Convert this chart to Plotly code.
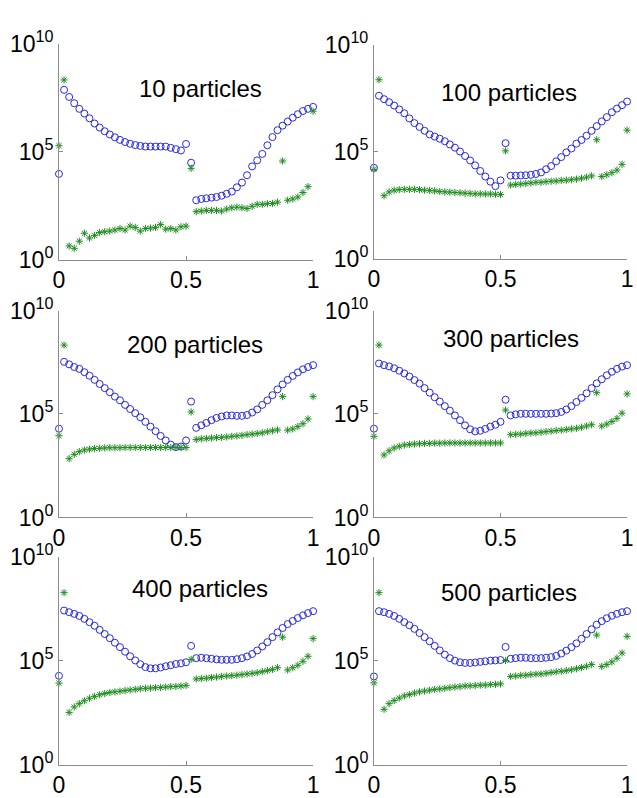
import plotly.graph_objects as go

# x positions (51 evenly spaced samples)
x_vals = [0.00, 0.02, 0.04, 0.06, 0.08, 0.10, 0.12, 0.14, 0.16, 0.18,
          0.20, 0.22, 0.24, 0.26, 0.28, 0.30, 0.32, 0.34, 0.36, 0.38,
          0.40, 0.42, 0.44, 0.46, 0.48, 0.50, 0.52, 0.54, 0.56, 0.58,
          0.60, 0.62, 0.64, 0.66, 0.68, 0.70, 0.72, 0.74, 0.76, 0.78,
          0.80, 0.82, 0.84, 0.86, 0.88, 0.90, 0.92, 0.94, 0.96, 0.98, 1.00]

titles = ["10 particles", "100 particles", "200 particles",
          "300 particles", "400 particles", "500 particles"]

# values, stored as log10(value)
blue_10 = [3.97, 7.87, 7.54, 7.25, 6.99, 6.77, 6.55, 6.31, 6.12, 5.95, 5.80, 5.67, 5.55, 5.45, 5.37, 5.31, 5.27, 5.24, 5.24, 5.24, 5.24, 5.24, 5.18, 5.12, 5.06, 5.36, 4.49, 2.75, 2.81, 2.84, 2.87, 2.90, 2.96, 3.05, 3.15, 3.35, 3.57, 3.91, 4.32, 4.60, 4.90, 5.30, 5.68, 6.00, 6.21, 6.40, 6.58, 6.74, 6.89, 6.99, 7.08]
green_10 = [5.28, 8.33, 0.63, 0.52, 0.85, 1.22, 1.00, 1.12, 1.25, 1.29, 1.32, 1.37, 1.44, 1.37, 1.55, 1.49, 1.32, 1.44, 1.46, 1.49, 1.62, 1.41, 1.44, 1.37, 1.52, 1.55, 4.23, 2.22, 2.25, 2.28, 2.28, 2.28, 2.25, 2.34, 2.40, 2.43, 2.40, 2.37, 2.47, 2.56, 2.56, 2.59, 2.60, 2.66, 4.57, 2.75, 2.81, 2.90, 3.11, 3.38, 6.88]

blue_100 = [4.25, 7.62, 7.46, 7.32, 7.16, 6.98, 6.80, 6.56, 6.34, 6.16, 5.98, 5.81, 5.71, 5.61, 5.49, 5.34, 5.19, 5.01, 4.80, 4.59, 4.36, 4.10, 3.84, 3.60, 3.39, 3.66, 5.40, 3.88, 3.88, 3.89, 3.90, 3.92, 3.96, 4.03, 4.18, 4.33, 4.55, 4.75, 4.97, 5.15, 5.38, 5.55, 5.75, 5.98, 6.20, 6.42, 6.62, 6.85, 7.02, 7.18, 7.35]
green_100 = [4.17, 8.37, 2.94, 3.12, 3.20, 3.23, 3.24, 3.24, 3.24, 3.23, 3.20, 3.19, 3.17, 3.14, 3.12, 3.11, 3.09, 3.08, 3.06, 3.05, 3.03, 3.03, 3.02, 3.02, 3.01, 3.00, 5.04, 3.44, 3.47, 3.49, 3.51, 3.54, 3.57, 3.57, 3.60, 3.62, 3.63, 3.66, 3.67, 3.69, 3.72, 3.76, 3.81, 3.87, 5.56, 3.84, 3.92, 4.02, 4.14, 4.41, 6.01]

blue_200 = [4.29, 7.52, 7.40, 7.27, 7.18, 7.02, 6.85, 6.65, 6.45, 6.25, 6.05, 5.84, 5.66, 5.44, 5.24, 5.04, 4.84, 4.62, 4.39, 4.17, 3.94, 3.72, 3.52, 3.40, 3.43, 3.72, 5.60, 4.33, 4.45, 4.57, 4.70, 4.81, 4.88, 4.93, 4.93, 4.91, 4.91, 4.95, 5.07, 5.22, 5.44, 5.66, 5.91, 6.19, 6.43, 6.65, 6.84, 7.01, 7.16, 7.27, 7.36]
green_200 = [3.95, 8.33, 2.84, 3.05, 3.18, 3.26, 3.30, 3.33, 3.34, 3.36, 3.37, 3.37, 3.37, 3.38, 3.38, 3.38, 3.38, 3.38, 3.38, 3.38, 3.38, 3.38, 3.38, 3.38, 3.38, 3.38, 5.10, 3.77, 3.80, 3.82, 3.84, 3.86, 3.87, 3.89, 3.92, 3.94, 3.97, 4.00, 4.03, 4.06, 4.09, 4.14, 4.19, 4.23, 5.84, 4.22, 4.28, 4.39, 4.53, 4.76, 5.84]

blue_300 = [4.29, 7.44, 7.36, 7.30, 7.21, 7.09, 6.96, 6.81, 6.64, 6.47, 6.25, 6.03, 5.81, 5.60, 5.38, 5.16, 4.93, 4.70, 4.45, 4.26, 4.16, 4.19, 4.28, 4.39, 4.48, 4.62, 5.69, 4.93, 4.98, 5.01, 5.01, 5.01, 5.01, 5.01, 5.01, 5.02, 5.04, 5.10, 5.22, 5.38, 5.58, 5.78, 6.00, 6.25, 6.48, 6.68, 6.87, 7.04, 7.18, 7.29, 7.36]
green_300 = [3.92, 8.33, 3.02, 3.22, 3.36, 3.44, 3.50, 3.53, 3.55, 3.56, 3.58, 3.58, 3.59, 3.59, 3.60, 3.60, 3.60, 3.60, 3.60, 3.60, 3.60, 3.60, 3.60, 3.60, 3.60, 3.60, 5.19, 4.00, 4.02, 4.03, 4.06, 4.08, 4.09, 4.12, 4.15, 4.17, 4.20, 4.22, 4.25, 4.28, 4.31, 4.36, 4.42, 4.48, 6.03, 4.42, 4.51, 4.64, 4.79, 5.04, 5.97]

blue_400 = [4.28, 7.42, 7.34, 7.26, 7.16, 7.02, 6.86, 6.69, 6.49, 6.29, 6.09, 5.87, 5.66, 5.44, 5.22, 5.02, 4.84, 4.70, 4.64, 4.64, 4.68, 4.74, 4.79, 4.85, 4.88, 4.93, 5.72, 5.13, 5.15, 5.13, 5.10, 5.07, 5.05, 5.05, 5.05, 5.08, 5.13, 5.21, 5.33, 5.50, 5.69, 5.90, 6.14, 6.37, 6.58, 6.77, 6.92, 7.06, 7.19, 7.30, 7.39]
green_400 = [3.93, 8.28, 2.52, 2.78, 2.94, 3.08, 3.20, 3.29, 3.37, 3.43, 3.48, 3.51, 3.54, 3.57, 3.60, 3.63, 3.66, 3.68, 3.69, 3.71, 3.72, 3.74, 3.76, 3.77, 3.79, 3.82, 5.07, 4.13, 4.15, 4.17, 4.20, 4.22, 4.25, 4.27, 4.29, 4.31, 4.34, 4.37, 4.40, 4.43, 4.48, 4.53, 4.59, 4.67, 6.14, 4.56, 4.67, 4.79, 4.98, 5.22, 6.07]

blue_500 = [4.25, 7.39, 7.34, 7.26, 7.16, 7.02, 6.86, 6.71, 6.54, 6.34, 6.14, 5.94, 5.72, 5.50, 5.30, 5.13, 5.01, 4.93, 4.90, 4.90, 4.92, 4.95, 4.98, 5.01, 5.02, 5.04, 5.67, 5.10, 5.13, 5.15, 5.15, 5.13, 5.13, 5.13, 5.15, 5.18, 5.24, 5.35, 5.49, 5.66, 5.84, 6.06, 6.29, 6.52, 6.74, 6.91, 7.05, 7.17, 7.26, 7.34, 7.39]
green_500 = [3.94, 8.28, 2.67, 2.94, 3.09, 3.21, 3.31, 3.38, 3.45, 3.51, 3.55, 3.59, 3.62, 3.65, 3.68, 3.71, 3.74, 3.76, 3.79, 3.80, 3.81, 3.83, 3.84, 3.86, 3.87, 3.89, 5.02, 4.25, 4.27, 4.30, 4.31, 4.34, 4.36, 4.37, 4.40, 4.44, 4.47, 4.50, 4.53, 4.57, 4.62, 4.68, 4.74, 4.82, 6.24, 4.73, 4.82, 4.95, 5.13, 5.38, 6.18]

blue_series = [blue_10, blue_100, blue_200, blue_300, blue_400, blue_500]
green_series = [green_10, green_100, green_200, green_300, green_400, green_500]

y_tickvals = [1, 1e5, 1e10]
y_ticktext = ["10<sup>0</sup>", "10<sup>5</sup>", "10<sup>10</sup>"]
x_tickvals = [0, 0.5, 1]
x_ticktext = ["0", "0.5", "1"]

W, H = 637, 798
# panel plot-area boxes in pixels: (left, right, top, bottom)
boxes = [(54, 313, 28, 252), (375, 633, 29, 251),
         (54, 313, 305, 520), (375, 633, 305, 520),
         (54, 313, 561, 777), (375, 633, 561, 777)]
title_pos = [(198, 74), (513, 78), (193, 340), (515, 334), (198, 594), (513, 598)]

FONT = "Liberation Sans, Arial, sans-serif"
AXC = "#8c8c8c"
BLUE = "#2a2ae0"
GREEN = "#1e8c1e"

fig = go.Figure()
layout = dict(width=W, height=H, margin=dict(l=0, r=0, t=0, b=0),
              paper_bgcolor="white", plot_bgcolor="white", showlegend=False,
              font=dict(family=FONT, color="black"))
annotations = []
for k in range(6):
    l, r, t, b = boxes[k]
    xa = "xaxis" if k == 0 else f"xaxis{k+1}"
    ya = "yaxis" if k == 0 else f"yaxis{k+1}"
    xref = "x" if k == 0 else f"x{k+1}"
    yref = "y" if k == 0 else f"y{k+1}"
    layout[xa] = dict(domain=[l / W, r / W], anchor=yref, range=[0, 1],
                      showline=True, linecolor=AXC, linewidth=1, mirror=False,
                      showgrid=False, zeroline=False, ticks="inside", ticklen=4,
                      tickcolor=AXC, tickvals=x_tickvals, ticktext=x_ticktext,
                      tickfont=dict(size=23, family=FONT, color="black"))
    layout[ya] = dict(domain=[1 - b / H, 1 - t / H], anchor=xref, type="log",
                      range=[0, 10], showline=True, linecolor=AXC, linewidth=1,
                      mirror=False, showgrid=False, zeroline=False,
                      ticks="inside", ticklen=4, tickcolor=AXC,
                      tickvals=y_tickvals, ticktext=y_ticktext,
                      tickfont=dict(size=23, family=FONT, color="black"))
    yb = [10 ** v for v in blue_series[k]]
    yg = [10 ** v for v in green_series[k]]
    fig.add_trace(go.Scatter(x=x_vals, y=yb, mode="markers", xaxis=xref, yaxis=yref,
                             cliponaxis=False,
                             marker=dict(symbol="circle-open", size=7, color=BLUE,
                                         line=dict(width=1, color=BLUE))))
    fig.add_trace(go.Scatter(x=x_vals, y=yg, mode="markers", xaxis=xref, yaxis=yref,
                             cliponaxis=False,
                             marker=dict(symbol="asterisk-open", size=6, color=GREEN,
                                         line=dict(width=1, color=GREEN))))
    tx, ty = title_pos[k]
    annotations.append(dict(text=titles[k], x=tx / W, y=1 - ty / H, xref="paper",
                            yref="paper", xanchor="center", yanchor="middle",
                            showarrow=False, font=dict(size=24, family=FONT, color="black")))
layout["annotations"] = annotations
fig.update_layout(**layout)
fig.write_html("out.html")
